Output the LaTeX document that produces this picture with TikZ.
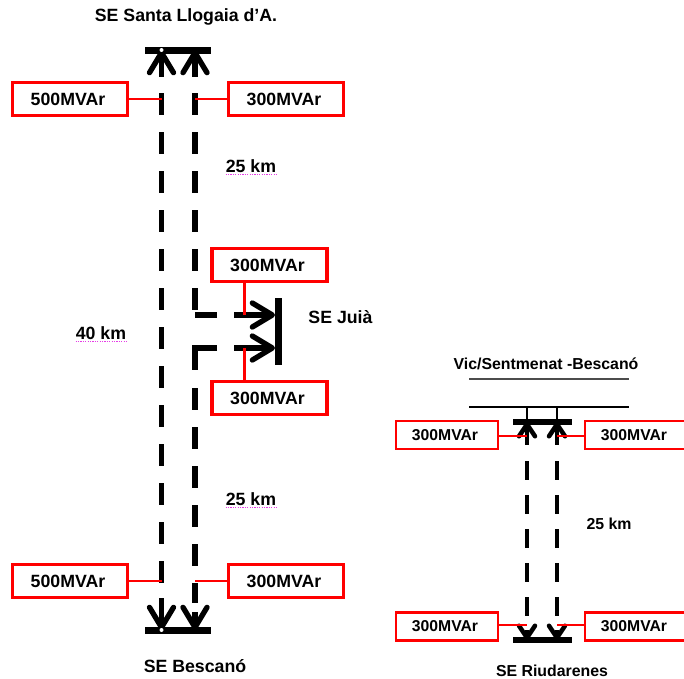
\documentclass[tikz,border=0pt]{standalone}
\usepackage{fontspec}
\setmainfont{Liberation Sans}
\usepackage{xcolor}
\usetikzlibrary{arrows.meta,positioning,calc}
\definecolor{capred}{RGB}{255,0,0}
\definecolor{spellpink}{RGB}{230,60,230}
\newcommand{\mvar}[1]{\raisebox{-1.8pt}{#1MVAr\kern3pt}}
\tikzset{
  capbox/.style={draw=capred, fill=white, line width=2.7pt, minimum width=115*0.75pt, minimum height=33*0.75pt, inner sep=0pt, font=\bfseries\fontsize{13.3}{15}\selectfont},
  capboxs/.style={capbox, line width=2.2pt, minimum width=102*0.75pt, minimum height=28*0.75pt, font=\bfseries\fontsize{11.8}{14}\selectfont},
  stub/.style={draw=capred, line width=1.9pt},
  stubs/.style={draw=capred, line width=1.6pt},
  busbar/.style={fill=black, inner sep=0pt, minimum width=66*0.75pt, minimum height=7*0.75pt},
  busdot/.style={circle, fill=white, inner sep=0pt, minimum size=3pt},
  lineb/.style={draw=black, line width=4pt, dash pattern=on 16.5pt off 12.75pt},
  lines/.style={draw=black, line width=3.4pt, dash pattern=on 14.25pt off 11.25pt},
  plainb/.style={draw=black, line width=4pt},
  tipb/.style={draw=black, line width=4pt, {Straight Barb[length=15pt,width=18pt,round]}-},
  tips/.style={draw=black, line width=3.4pt, {Straight Barb[length=9pt,width=12pt,round]}-},
  txt/.style={font=\bfseries\fontsize{13.3}{15}\selectfont, inner sep=0pt},
  txts/.style={font=\bfseries\fontsize{11.9}{14}\selectfont, inner sep=0pt},
  under/.style={draw=spellpink, line width=0.8pt, dash pattern=on 0.9pt off 0.9pt},
}
\begin{document}
\begin{tikzpicture}[x=0.75pt,y=-0.75pt]
  \useasboundingbox (0,0) rectangle (684,678);
  % Santa Llogaia - Bescano
  \node[txt] (tsanta) at (186,17) {SE Santa Llogaia d'A.};
  \node[busbar] (bsanta) at (178,50) {};
  \node[busbar] (bbesc) at (178,630) {};
  \node[txt] (tbesc) at (195,666) {SE Bescan\'o};
  \coordinate (l0) at (161.5,50);
  \coordinate (l1) at (161.5,77);
  \coordinate (l2) at (161.5,93);
  \coordinate (l3) at (161.5,583);
  \coordinate (l4) at (161.5,598);
  \coordinate (l5) at (161.5,630);
  \coordinate (r0) at (195,50);
  \coordinate (r1) at (195,77);
  \coordinate (r2) at (195,93);
  \coordinate (r3) at (195,310);
  \coordinate (r4) at (195,315);
  \coordinate (r5) at (195,348);
  \coordinate (r6) at (195,370);
  \coordinate (r7) at (195,388);
  \coordinate (r8) at (195,603);
  \coordinate (r9) at (195,630);
  \coordinate (r10) at (195,612);
  \draw[tipb] (l0) -- (l1);
  \draw[tipb] (r0) -- (r1);
  \draw[lineb] (l2) -- (l3);
  \draw[lineb] (r2) -- (r3);
  \draw[tipb] (l5) -- (l4);
  \draw[tipb] (r9) -- (r10);
  \draw[lineb] (r7) -- (r8);
  \node[busdot] (dsanta) at (l0) {};
  \node[busdot] (dbesc) at (l5) {};
  % Juia
  \node[busbar, minimum width=7*0.75pt, minimum height=67*0.75pt] (bjuia) at (278,331.5) {};
  \node[txt] (tjuia) at (340.5,317) {SE Jui\`a};
  \coordinate (j1) at (275,315);
  \coordinate (j2) at (275,348);
  \coordinate (j1a) at (255,315);
  \coordinate (j2a) at (255,348);
  \coordinate (j1b) at (234,315);
  \coordinate (j2b) at (234,348);
  \coordinate (j1c) at (217,315);
  \coordinate (j2c) at (217,348);
  \draw[tipb] (j1) -- (j1a);
  \draw[tipb] (j2) -- (j2a);
  \draw[plainb] (j1a) -- (j1b);
  \draw[plainb] (j2a) -- (j2b);
  \draw[plainb] (j1c) -- (r4);
  \draw[plainb] (j2c) -- (r5) -- (r6);
  % capacitors left
  \node[capbox] (c5t) at (70,99) {\mvar{500}};
  \node[capbox] (c3t) at (286,99) {\mvar{300}};
  \node[capbox] (c5b) at (70,581) {\mvar{500}};
  \node[capbox] (c3b) at (286,581) {\mvar{300}};
  \node[capbox] (c3u) at (269.5,265) {\mvar{300}};
  \node[capbox] (c3d) at (269.5,398) {\mvar{300}};
  \coordinate (s1) at (161.5,99);
  \coordinate (s2) at (195,99);
  \coordinate (s3) at (161.5,581);
  \coordinate (s4) at (195,581);
  \coordinate (s5) at (244.5,315);
  \coordinate (s6) at (244.5,348);
  \draw[stub] (c5t) -- (s1);
  \draw[stub] (c3t) -- (s2);
  \draw[stub] (c5b) -- (s3);
  \draw[stub] (c3b) -- (s4);
  \draw[stub] (s5 |- c3u.south) -- (s5);
  \draw[stub] (s6 |- c3d.north) -- (s6);
  % distances
  \node[txt] (d1) at (251,166) {25 km};
  \node[txt] (d2) at (251,499) {25 km};
  \node[txt] (d3) at (101,333) {40 km};
  \draw[under] ($(d1.south west)+(0,2)$) -- ($(d1.south east)+(0,2)$);
  \draw[under] ($(d2.south west)+(0,2)$) -- ($(d2.south east)+(0,2)$);
  \draw[under] ($(d3.south west)+(0,2)$) -- ($(d3.south east)+(0,2)$);
  % Vic/Sentmenat - Riudarenes
  \node[txts] (tvic) at (546,364) {Vic/Sentmenat -Bescan\'o};
  \coordinate (g1) at (469,379);
  \coordinate (g2) at (629,379);
  \coordinate (k1) at (469,407);
  \coordinate (k2) at (629,407);
  \draw[black!70, line width=1.1pt] (g1) -- (g2);
  \draw[black, line width=1.6pt] (k1) -- (k2);
  \node[busbar, minimum width=59*0.75pt, minimum height=6*0.75pt] (briu) at (542.5,422) {};
  \node[busbar, minimum width=59*0.75pt, minimum height=6*0.75pt] (briub) at (542.5,640) {};
  \node[txts] (triu) at (552,671) {SE Riudarenes};
  \coordinate (a0) at (527,407);
  \coordinate (a1) at (527,422);
  \coordinate (a2) at (527,445);
  \coordinate (a3) at (527,461);
  \coordinate (a4) at (527,616);
  \coordinate (a5) at (527,640);
  \coordinate (a6) at (527,630);
  \coordinate (b0) at (557,407);
  \coordinate (b1) at (557,422);
  \coordinate (b2) at (557,445);
  \coordinate (b3) at (557,461);
  \coordinate (b4) at (557,616);
  \coordinate (b5) at (557,640);
  \coordinate (b6) at (557,630);
  \draw[black, line width=1.6pt] (a0) -- (a1);
  \draw[black, line width=1.6pt] (b0) -- (b1);
  \draw[tips] (a1) -- (a2);
  \draw[tips] (b1) -- (b2);
  \draw[lines] (a3) -- (a4);
  \draw[lines] (b3) -- (b4);
  \draw[tips] (a5) -- (a6);
  \draw[tips] (b5) -- (b6);
  \node[capboxs] (e1) at (447,435) {\mvar{300}};
  \node[capboxs] (e2) at (636,435) {\mvar{300}};
  \node[capboxs] (e3) at (447,626.5) {\mvar{300}};
  \node[capboxs] (e4) at (636,626.5) {\mvar{300}};
  \coordinate (t1) at (527,436);
  \coordinate (t2) at (557,436);
  \coordinate (t3) at (527,625);
  \coordinate (t4) at (557,625);
  \draw[stubs] (t1 -| e1.east) -- (t1);
  \draw[stubs] (t2 -| e2.west) -- (t2);
  \draw[stubs] (t3 -| e3.east) -- (t3);
  \draw[stubs] (t4 -| e4.west) -- (t4);
  \node[txts] (d4) at (609,524) {25 km};
\end{tikzpicture}
\end{document}
